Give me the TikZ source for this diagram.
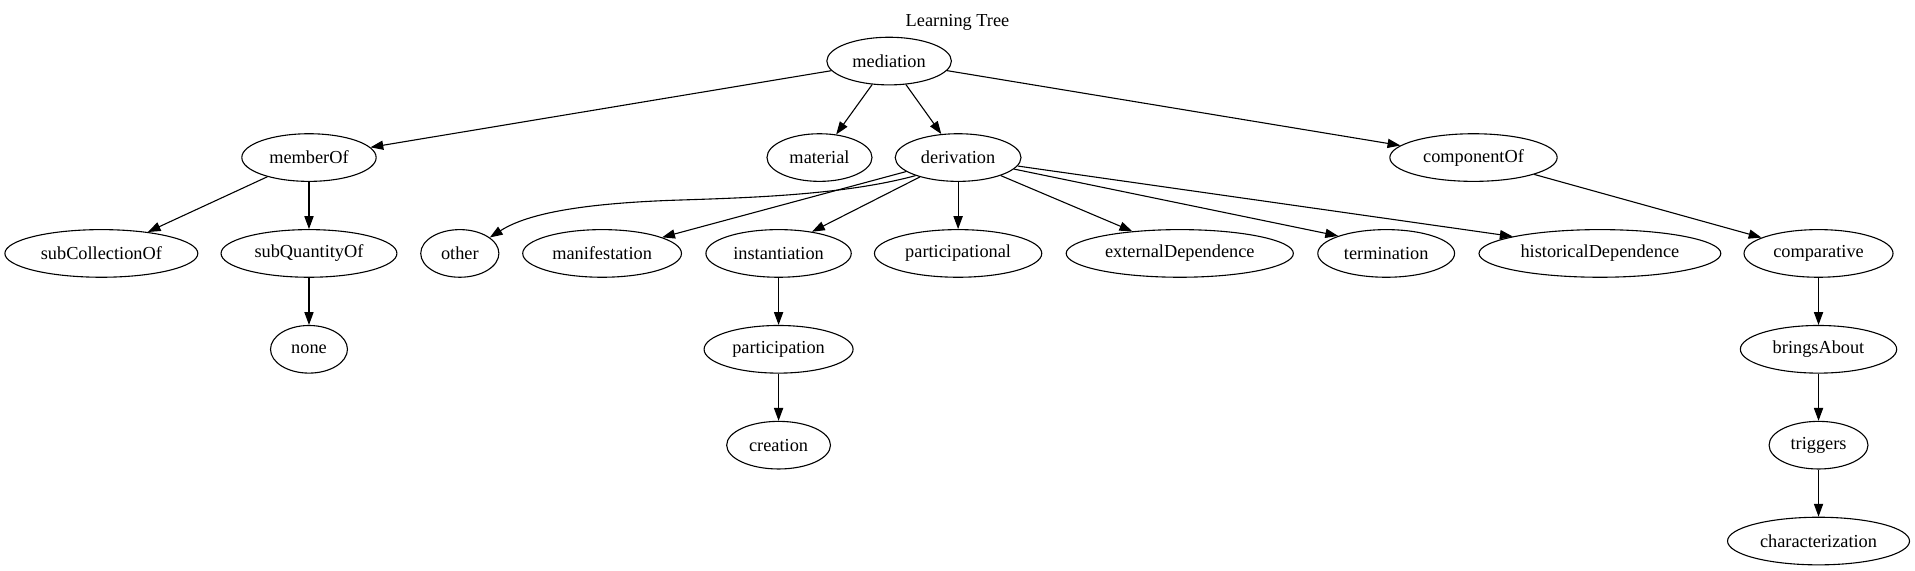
\documentclass[tikz,border=0pt]{standalone}
\usepackage{fontspec}
\setmainfont{Liberation Serif}
\usetikzlibrary{shapes.geometric,arrows.meta}
\tikzset{
  nd/.style={draw, ellipse, line width=0.9pt, inner sep=0pt, minimum height=39pt, font=\fontsize{15}{18}\selectfont},
  edge/.style={line width=0.9pt, -{Triangle[length=10.5pt,width=7.5pt]}},
}
\begin{document}
\begin{tikzpicture}[x=1pt,y=-1pt]
\useasboundingbox (0,0) rectangle (1568,467);
\node[font=\fontsize{15}{18}\selectfont] (title) at (784,18) {Learning Tree};
% row 1
\node[nd, minimum width=102pt] (mediation) at (728,50) {mediation};
% row 2
\node[nd, minimum width=110pt] (memberOf) at (253,129) {memberOf};
\node[nd, minimum width=86pt] (material) at (671,129) {material};
\node[nd, minimum width=103pt] (derivation) at (784.5,129) {derivation};
\node[nd, minimum width=137pt] (componentOf) at (1206.5,129) {componentOf};
% row 3
\node[nd, minimum width=158pt] (subCollectionOf) at (83,207.5) {subCollectionOf};
\node[nd, minimum width=144pt] (subQuantityOf) at (253,207.5) {subQuantityOf};
\node[nd, minimum width=64pt] (other) at (376.5,207.5) {other};
\node[nd, minimum width=130pt] (manifestation) at (493,207.5) {manifestation};
\node[nd, minimum width=119pt] (instantiation) at (637.5,207.5) {instantiation};
\node[nd, minimum width=137pt] (participational) at (784.5,207.5) {participational};
\node[nd, minimum width=186pt] (externalDependence) at (966,207.5) {externalDependence};
\node[nd, minimum width=112pt] (termination) at (1135,207.5) {termination};
\node[nd, minimum width=198pt] (historicalDependence) at (1310,207.5) {historicalDependence};
\node[nd, minimum width=122pt] (comparative) at (1489,207.5) {comparative};
% row 4
\node[nd, minimum width=63pt] (none) at (253,286) {none};
\node[nd, minimum width=122pt] (participation) at (637.5,286) {participation};
\node[nd, minimum width=128pt] (bringsAbout) at (1489,286) {bringsAbout};
% row 5
\node[nd, minimum width=85pt] (creation) at (637.5,364.5) {creation};
\node[nd, minimum width=81pt] (triggers) at (1489,364.5) {triggers};
% row 6
\node[nd, minimum width=149pt] (characterization) at (1489,443) {characterization};
% edges
\draw[edge] (mediation) -- (memberOf);
\draw[edge] (mediation) -- (material);
\draw[edge] (mediation) -- (derivation);
\draw[edge] (mediation) -- (componentOf);
\draw[edge] (memberOf) -- (subCollectionOf);
\draw[edge] (memberOf) -- (subQuantityOf);
\draw[edge] (subQuantityOf) -- (none);
\draw[edge] (derivation.203) .. controls (690,160) and (610,162) .. (550,164) .. controls (470,167) and (430,176) .. (other.28);
\draw[edge] (derivation) -- (manifestation.15);
\draw[edge] (derivation) -- (instantiation.33);
\draw[edge] (derivation) -- (participational);
\draw[edge] (derivation) -- (externalDependence.155);
\draw[edge] (derivation) -- (termination.160);
\draw[edge] (derivation) -- (historicalDependence.169);
\draw[edge] (componentOf) -- (comparative);
\draw[edge] (instantiation) -- (participation);
\draw[edge] (participation) -- (creation);
\draw[edge] (comparative) -- (bringsAbout);
\draw[edge] (bringsAbout) -- (triggers);
\draw[edge] (triggers) -- (characterization);
\end{tikzpicture}
\end{document}
